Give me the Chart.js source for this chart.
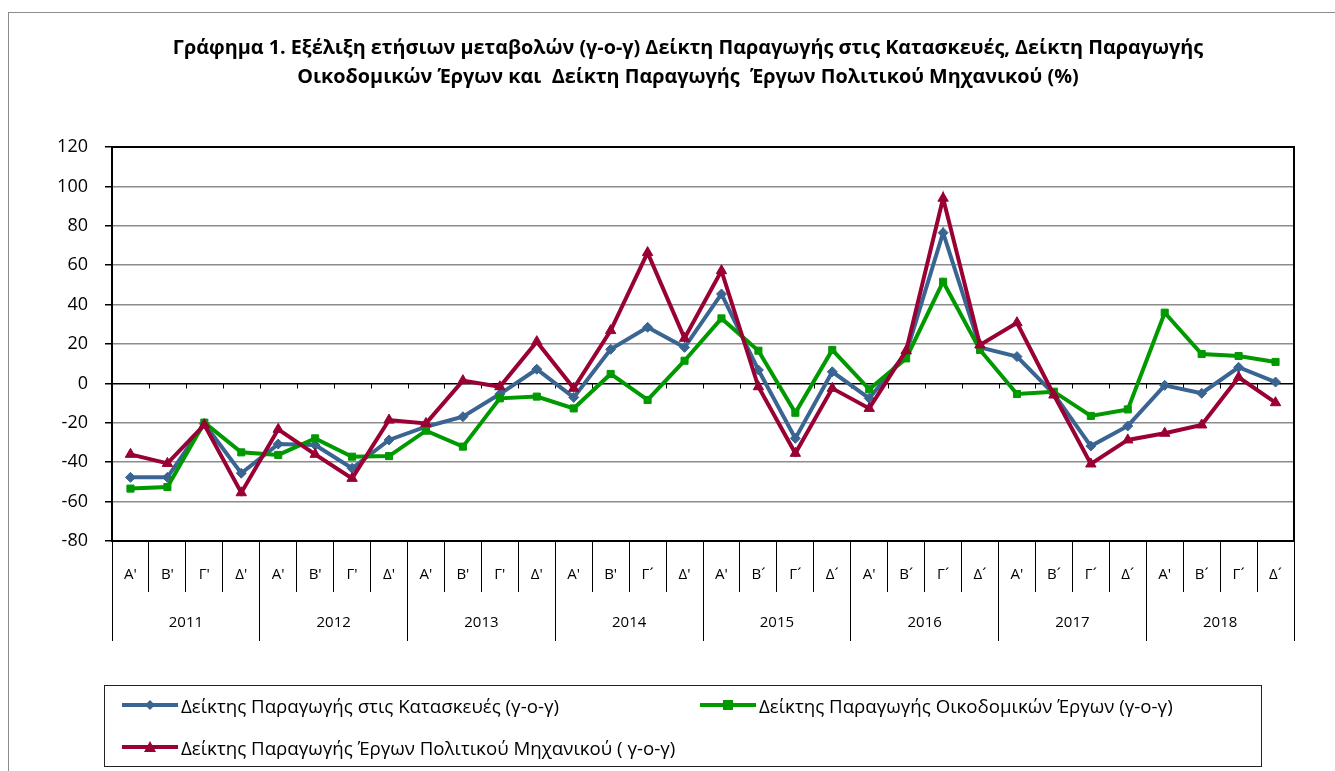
<!DOCTYPE html>
<html lang="el">
<head>
<meta charset="utf-8">
<title>Γράφημα 1</title>
<script src="https://cdn.jsdelivr.net/npm/chart.js@4.4.1/dist/chart.umd.min.js"></script>
<style>
    html, body { margin: 0; padding: 0; background: #fff; }
    body { font-family: "Open Sans", sans-serif; color: #000; }
    #wrap { position: relative; width: 1335px; height: 771px; overflow: hidden; }
    #chart { position: absolute; left: 0; top: 0; }
    #title {
        position: absolute; left: 88px; top: 32px; width: 1200px;
        text-align: center; font-weight: bold; font-size: 19.8px; line-height: 29px; white-space: pre;
    }
    #legend {
        position: absolute; left: 104px; top: 685px; width: 1158px; height: 82px;
        border: 1px solid #222; box-sizing: border-box;
    }
    .item { position: absolute; display: flex; align-items: center; font-size: 18.7px; white-space: pre; height: 20px; }
    .item svg { margin-right: 3px; }
</style>
</head>
<body>
<div id="wrap">
    <canvas id="chart" width="1335" height="771"></canvas>
    <div id="title">Γράφημα 1. Εξέλιξη ετήσιων μεταβολών (γ-ο-γ) Δείκτη Παραγωγής στις Κατασκευές, Δείκτη Παραγωγής
Οικοδομικών Έργων και  Δείκτη Παραγωγής  Έργων Πολιτικού Μηχανικού (%)</div>
    <div id="legend"></div>
</div>
<script>
const quarterLabels = [
    "Α'", "Β'", "Γ'", "Δ'",
    "Α'", "Β'", "Γ'", "Δ'",
    "Α'", "Β'", "Γ'", "Δ'",
    "Α'", "Β'", "Γ´", "Δ'",
    "Α'", "Β´", "Γ´", "Δ´",
    "Α'", "Β´", "Γ´", "Δ´",
    "Α'", "Β´", "Γ´", "Δ´",
    "Α'", "Β´", "Γ´", "Δ´",
]
const yearLabels = ["2011", "2012", "2013", "2014", "2015", "2016", "2017", "2018"]

// y-o-y changes (%)
const constructionValues = [
    -47.7, -47.7, -20.5, -45.6,
    -30.8, -31.3, -43.1, -28.7,
    -22.0, -16.9, -5.4, 7.2,
    -7.1, 17.3, 28.5, 18.3,
    45.4, 6.8, -27.9, 5.9,
    -7.6, 15.3, 76.5, 18.3,
    13.6, -5.4, -31.8, -21.6,
    -1.0, -5.0, 8.2, 0.7,
]
const buildingValues = [
    -53.4, -52.6, -19.9, -35.0,
    -36.3, -27.9, -37.2, -36.9,
    -24.0, -32.1, -7.6, -6.7,
    -12.7, 4.8, -8.4, 11.5,
    33.0, 16.6, -14.9, 17.0,
    -3.0, 12.7, 51.6, 17.0,
    -5.4, -4.2, -16.5, -13.2,
    35.9, 14.9, 13.9, 10.9,
]
const civilValues = [
    -36.0, -40.6, -21.0, -55.5,
    -23.3, -36.0, -48.2, -18.6,
    -20.3, 1.4, -1.7, 21.2,
    -2.5, 26.8, 66.4, 22.9,
    57.2, -1.7, -35.5, -2.5,
    -12.7, 16.6, 94.0, 19.5,
    30.8, -5.9, -40.9, -28.7,
    -25.3, -21.1, 3.1, -9.8,
]

const yMin = -80
const yMax = 120
const yStep = 20

const series = [
    { label: "Δείκτης Παραγωγής στις Κατασκευές (γ-ο-γ)", data: constructionValues, color: "#3A6593", style: "rectRot", radius: 5, order: 3 },
    { label: "Δείκτης Παραγωγής Οικοδομικών Έργων (γ-ο-γ)", data: buildingValues, color: "#009900", style: "rect", radius: 5, order: 2 },
    { label: "Δείκτης Παραγωγής Έργων Πολιτικού Μηχανικού ( γ-ο-γ)", data: civilValues, color: "#990033", style: "triangle", radius: 6, order: 1 },
]

const font = "'Open Sans', sans-serif"

const framePlugin = {
    id: "frame",
    beforeDraw: (chart) => {
        const ctx = chart.ctx
        ctx.save()
        ctx.strokeStyle = "#8c8c8c"
        ctx.lineWidth = 1
        ctx.strokeRect(8.5, 12.5, chart.width, chart.height)
        ctx.restore()
    },
    beforeDatasetsDraw: (chart) => {
        const { ctx, chartArea: a, scales: { x, y } } = chart
        ctx.save()
        ctx.strokeStyle = "#000"
        ctx.lineWidth = 2
        ctx.strokeRect(a.left, a.top, a.right - a.left, a.bottom - a.top)
        // horizontal axis crosses at zero, with small ticks between categories
        const y0 = Math.round(y.getPixelForValue(0)) + 0.5
        const half = (x.getPixelForValue(1) - x.getPixelForValue(0)) / 2
        ctx.lineWidth = 1
        ctx.beginPath()
        ctx.moveTo(a.left, y0)
        ctx.lineTo(a.right, y0)
        for (let i = 0; i <= quarterLabels.length; i++) {
            const px = Math.round(x.getPixelForValue(i) - half) + 0.5
            ctx.moveTo(px, y0)
            ctx.lineTo(px, y0 + 5)
        }
        ctx.stroke()
        ctx.restore()
    },
}

new Chart(document.getElementById("chart"), {
    type: "line",
    data: {
        labels: quarterLabels,
        datasets: series.map((s) => ({
            label: s.label,
            data: s.data,
            borderColor: s.color,
            backgroundColor: s.color,
            borderWidth: 4,
            pointStyle: s.style,
            pointRadius: s.radius,
            pointBorderWidth: 1,
            pointBorderColor: s.color,
            pointBackgroundColor: s.color,
            tension: 0,
            order: s.order,
        })),
    },
    options: {
        responsive: false,
        animation: false,
        layout: { padding: { left: 0, right: 41, top: 147, bottom: 130 } },
        plugins: {
            legend: { display: false },
            title: { display: false },
            tooltip: { enabled: false },
        },
        scales: {
            y: {
                min: yMin,
                max: yMax,
                ticks: {
                    stepSize: yStep,
                    color: "#000",
                    padding: 17,
                    font: { family: font, size: 18 },
                },
                grid: {
                    color: (c) => (c.tick && c.tick.value === 0 ? "#000" : "#8c8c8c"),
                    lineWidth: 1.5,
                    tickLength: 7,
                    tickColor: "#000",
                },
                border: { display: true, color: "#000", width: 2 },
                afterFit: (s) => { s.width = 112 },
            },
            x: {
                offset: true,
                ticks: {
                    color: "#000",
                    autoSkip: false,
                    maxRotation: 0,
                    padding: -26,
                    font: { family: font, size: 15 },
                },
                grid: {
                    drawOnChartArea: false,
                    offset: true,
                    tickLength: 51,
                    color: "#000",
                    lineWidth: 1,
                },
                border: { display: true, color: "#000", width: 2 },
                afterFit: (s) => { s.height = 51 },
            },
            x2: {
                type: "category",
                position: "bottom",
                labels: yearLabels,
                offset: true,
                ticks: {
                    color: "#000",
                    autoSkip: false,
                    maxRotation: 0,
                    padding: -27,
                    font: { family: font, size: 15 },
                },
                grid: {
                    drawOnChartArea: false,
                    offset: true,
                    tickLength: 49,
                    color: "#000",
                    lineWidth: 1,
                },
                border: { display: false },
                afterFit: (s) => { s.height = 49 },
            },
        },
    },
    plugins: [framePlugin],
})

// legend: line with marker, then label
const markerSvg = (s) => {
    const c = s.color
    let mark = ""
    if (s.style === "rectRot") {
        mark = `<polygon points="28,3 33,8 28,13 23,8" fill="${c}"/>`
    } else if (s.style === "rect") {
        mark = `<rect x="23" y="3" width="10" height="10" fill="${c}"/>`
    } else {
        mark = `<polygon points="28,2 34,13 22,13" fill="${c}"/>`
    }
    return `<svg width="56" height="16"><line x1="0" y1="8" x2="56" y2="8" stroke="${c}" stroke-width="4"/>${mark}</svg>`
}

const legendPos = [
    { left: 17, top: 9 },
    { left: 595, top: 9 },
    { left: 17, top: 51 },
]
const legendEl = document.getElementById("legend")
series.forEach((s, i) => {
    const item = document.createElement("div")
    item.className = "item"
    item.style.left = `${legendPos[i].left}px`
    item.style.top = `${legendPos[i].top}px`
    item.innerHTML = markerSvg(s)
    const span = document.createElement("span")
    span.textContent = s.label
    item.appendChild(span)
    legendEl.appendChild(item)
})
</script>
</body>
</html>
